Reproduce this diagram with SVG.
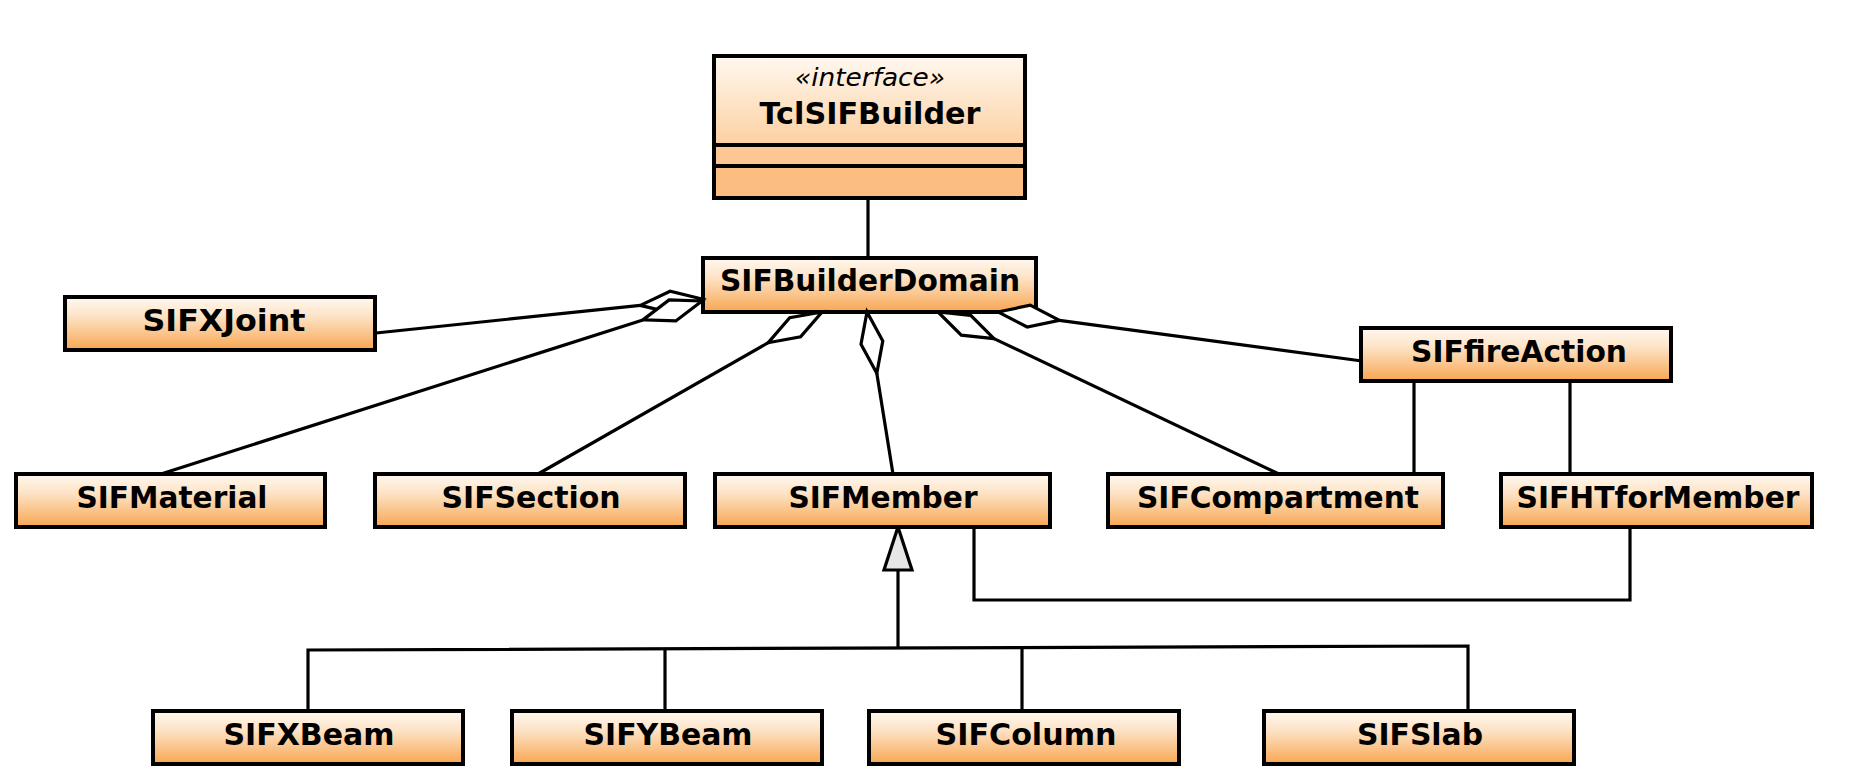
<svg xmlns="http://www.w3.org/2000/svg" width="1875" height="781" viewBox="0 0 1875 781">
<style>
.box{fill:url(#g);stroke:#000;stroke-width:4}
.lbl{font-family:"DejaVu Sans",Verdana,sans-serif;font-weight:bold;font-size:31px;fill:#000;text-anchor:middle}
.ln{fill:none;stroke:#000;stroke-width:3.2}
.dia{fill:#fff;stroke:#000;stroke-width:3.2;stroke-linejoin:miter}
</style>
<defs>
<linearGradient id="g" x1="0" y1="0" x2="0" y2="1">
<stop offset="0" stop-color="#fff8f0"/>
<stop offset="0.35" stop-color="#fde4c8"/>
<stop offset="1" stop-color="#f8a652"/>
</linearGradient>
<linearGradient id="gh" x1="0" y1="0" x2="0" y2="1">
<stop offset="0" stop-color="#fff8f0"/>
<stop offset="1" stop-color="#fcd0a2"/>
</linearGradient>
</defs>
<g id="connectors">
<line class="ln" x1="868" y1="198" x2="868" y2="258"/>
<line class="ln" x1="376" y1="333" x2="640.3" y2="305.4"/>
<line class="ln" x1="161" y1="474" x2="642.9" y2="319.9"/>
<line class="ln" x1="538" y1="474" x2="768.2" y2="342.7"/>
<line class="ln" x1="893" y1="474" x2="876.8" y2="373.2"/>
<line class="ln" x1="1279" y1="474" x2="994" y2="338.6"/>
<line class="ln" x1="1362" y1="361" x2="1059.4" y2="320.3"/>
<line class="ln" x1="1414" y1="381" x2="1414" y2="474"/>
<line class="ln" x1="1570" y1="381" x2="1570" y2="474"/>
<polyline class="ln" points="974,527 974,600 1630,600 1630,527"/>
<line class="ln" x1="898" y1="570" x2="898" y2="648"/>
<polyline class="ln" points="308,711 308,650 1468,646 1468,711"/>
<line class="ln" x1="665" y1="711" x2="665" y2="649"/>
<line class="ln" x1="1022" y1="711" x2="1022" y2="648"/>
<polygon class="dia" points="898,527 912,570 884,570" style="fill:#e6e6e6"/>
</g>
<g id="TclSIFBuilder">
<rect x="714" y="56" width="311" height="89" fill="url(#gh)" stroke="#000" stroke-width="4"/>
<rect x="714" y="145" width="311" height="21" fill="#fcc794" stroke="#000" stroke-width="4"/>
<rect x="714" y="166" width="311" height="32" fill="#fbbd80" stroke="#000" stroke-width="4"/>
<text x="870" y="86" style="font-family:'DejaVu Sans',Verdana,sans-serif;font-style:italic;font-size:24px;text-anchor:middle" textLength="150" lengthAdjust="spacingAndGlyphs">«interface»</text>
<text class="lbl" x="870" y="124" textLength="221" lengthAdjust="spacingAndGlyphs">TclSIFBuilder</text>
</g>
<g id="SIFBuilderDomain">
<rect class="box" x="703" y="258" width="333" height="54"/>
<text class="lbl" x="870" y="291" textLength="300" lengthAdjust="spacingAndGlyphs">SIFBuilderDomain</text>
</g>
<g id="SIFXJoint">
<rect class="box" x="65" y="297" width="310" height="53"/>
<text class="lbl" x="224" y="331" textLength="163" lengthAdjust="spacingAndGlyphs">SIFXJoint</text>
</g>
<g id="SIFfireAction">
<rect class="box" x="1361" y="328" width="310" height="53"/>
<text class="lbl" x="1519" y="362" textLength="216" lengthAdjust="spacingAndGlyphs">SIFfireAction</text>
</g>
<g id="SIFMaterial">
<rect class="box" x="16" y="474" width="309" height="53"/>
<text class="lbl" x="172" y="508" textLength="191" lengthAdjust="spacingAndGlyphs">SIFMaterial</text>
</g>
<g id="SIFSection">
<rect class="box" x="375" y="474" width="310" height="53"/>
<text class="lbl" x="531" y="508" textLength="179" lengthAdjust="spacingAndGlyphs">SIFSection</text>
</g>
<g id="SIFMember">
<rect class="box" x="715" y="474" width="335" height="53"/>
<text class="lbl" x="883" y="508" textLength="189" lengthAdjust="spacingAndGlyphs">SIFMember</text>
</g>
<g id="SIFCompartment">
<rect class="box" x="1108" y="474" width="335" height="53"/>
<text class="lbl" x="1278" y="508" textLength="282" lengthAdjust="spacingAndGlyphs">SIFCompartment</text>
</g>
<g id="SIFHTforMember">
<rect class="box" x="1501" y="474" width="311" height="53"/>
<text class="lbl" x="1658" y="508" textLength="283" lengthAdjust="spacingAndGlyphs">SIFHTforMember</text>
</g>
<g id="SIFXBeam">
<rect class="box" x="153" y="711" width="310" height="53"/>
<text class="lbl" x="309" y="745" textLength="171" lengthAdjust="spacingAndGlyphs">SIFXBeam</text>
</g>
<g id="SIFYBeam">
<rect class="box" x="512" y="711" width="310" height="53"/>
<text class="lbl" x="668" y="745" textLength="169" lengthAdjust="spacingAndGlyphs">SIFYBeam</text>
</g>
<g id="SIFColumn">
<rect class="box" x="869" y="711" width="310" height="53"/>
<text class="lbl" x="1026" y="745" textLength="181" lengthAdjust="spacingAndGlyphs">SIFColumn</text>
</g>
<g id="SIFSlab">
<rect class="box" x="1264" y="711" width="310" height="53"/>
<text class="lbl" x="1420" y="745" textLength="126" lengthAdjust="spacingAndGlyphs">SIFSlab</text>
</g>
<g id="aggregation-diamonds">
<polygon class="dia" points="702,299 670.1,291.3 640.3,305.4 672.3,313.1"/>
<polygon class="dia" points="702,301 669.1,299.9 642.9,319.9 675.8,320.9"/>
<polygon class="dia" points="822,312 789.7,317.8 768.2,342.7 800.6,336.9"/>
<polygon class="dia" points="867,312 861,344.3 876.8,373.2 882.8,340.9"/>
<polygon class="dia" points="938,312 970.7,315.4 994,338.6 961.3,335.2"/>
<polygon class="dia" points="998,312 1030.2,305.2 1059.4,320.3 1027.2,327"/>
</g>
</svg>
